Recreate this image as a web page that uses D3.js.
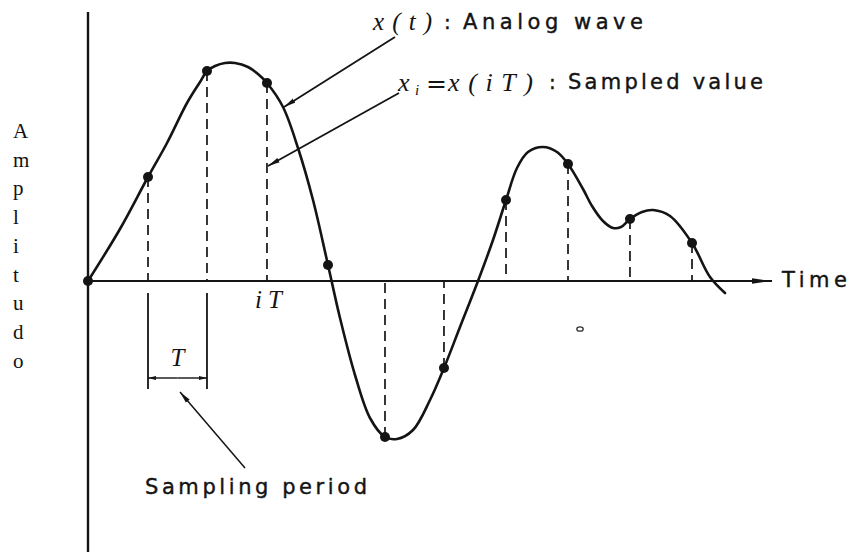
<!DOCTYPE html>
<html><head><meta charset="utf-8">
<script src="https://cdn.jsdelivr.net/npm/d3@7"></script>
<style>body{margin:0;background:#fff}svg{display:block}</style>
</head><body>
<svg id="c" width="849" height="552"></svg>
<script>
// analog wave x(t) (t in units of T, amplitude in arbitrary units)
const waveT = [0, 0.533, 1.0, 1.317, 1.65, 1.867, 1.983, 2.117, 2.283, 2.45, 2.667, 2.833, 2.983, 3.25, 3.5, 3.75, 4.0, 4.2, 4.45, 4.7, 4.95, 5.15, 5.417, 5.7, 5.933, 6.2, 6.5, 6.75, 6.967, 7.15, 7.333, 7.583, 7.817, 8.0, 8.25, 8.4, 8.583, 8.75, 8.883, 9.033, 9.233, 9.417, 9.7, 10.067, 10.367, 10.617];
const waveA = [0, 0.52, 1.04, 1.38, 1.78, 1.99, 2.10, 2.15, 2.18, 2.18, 2.14, 2.07, 1.98, 1.74, 1.33, 0.81, 0.16, -0.37, -0.94, -1.37, -1.56, -1.58, -1.49, -1.19, -0.87, -0.46, 0, 0.41, 0.81, 1.13, 1.29, 1.34, 1.29, 1.17, 0.92, 0.75, 0.60, 0.53, 0.54, 0.62, 0.69, 0.71, 0.65, 0.38, 0.04, -0.12];
// sampled values x_i = x(iT)
const sampleT = [0, 1.0, 1.983, 2.983, 4.0, 4.95, 5.933, 6.967, 8.0, 9.033, 10.067];
const sampleA = [0, 1.04, 2.10, 1.98, 0.16, -1.56, -0.87, 0.81, 1.17, 0.62, 0.38];
// labels
const yLabel = "Amplitudo";
const xLabel = "Time";
const waveLabel = ["x(t)", ":", "Analog wave"];
const sampleLabel = ["x", "i", "=", "x(iT)", ":", "Sampled value"];
const periodLabel = "Sampling period";
const iTLabel = ["i", "T"];
const TLabel = "T";

const svg = d3.select("#c");
const x = d3.scaleLinear().domain([0, 10]).range([88, 688]);
const y = d3.scaleLinear().domain([-2.6, 2.7]).range([541, 11]);
const ink = "#141414";

const defs = svg.append("defs");
defs.append("marker").attr("id", "ah").attr("viewBox", "0 0 12 6")
  .attr("refX", 12).attr("refY", 3).attr("markerWidth", 12).attr("markerHeight", 6)
  .attr("markerUnits", "userSpaceOnUse").attr("orient", "auto")
  .append("path").attr("d", "M0,0.6 L12,3 L0,5.4 Z").attr("fill", ink);
defs.append("marker").attr("id", "ahs").attr("viewBox", "0 0 8 5")
  .attr("refX", 8).attr("refY", 2.5).attr("markerWidth", 8).attr("markerHeight", 5)
  .attr("markerUnits", "userSpaceOnUse").attr("orient", "auto")
  .append("path").attr("d", "M0,0.5 L8,2.5 L0,4.5 Z").attr("fill", ink);
defs.append("marker").attr("id", "ahx").attr("viewBox", "0 0 20 7")
  .attr("refX", 20).attr("refY", 3.5).attr("markerWidth", 20).attr("markerHeight", 7)
  .attr("markerUnits", "userSpaceOnUse").attr("orient", "auto")
  .append("path").attr("d", "M0,0.8 L20,3.5 L0,6.2 Z").attr("fill", ink);

// axes
svg.append("line").attr("x1", x(0)).attr("x2", x(0)).attr("y1", 12).attr("y2", 552)
  .attr("stroke", ink).attr("stroke-width", 2.4);
svg.append("line").attr("x1", x(0)).attr("x2", x(11.4)).attr("y1", y(0)).attr("y2", y(0))
  .attr("stroke", ink).attr("stroke-width", 2).attr("marker-end", "url(#ahx)");

// dashed sample lines
svg.append("g").selectAll("line").data(sampleT.map((t, i) => [t, sampleA[i]]).filter(d => Math.abs(d[1]) > 0.3))
  .join("line")
  .attr("x1", d => x(d[0])).attr("x2", d => x(d[0]))
  .attr("y1", d => y(d[1])).attr("y2", y(0))
  .attr("stroke", ink).attr("stroke-width", 1.7).attr("stroke-dasharray", "10,6");

// period bracket (between samples 1 and 2)
const tA = sampleT[1], tB = sampleT[2];
[tA, tB].forEach(t => {
  svg.append("line").attr("x1", x(t)).attr("x2", x(t)).attr("y1", y(-0.12)).attr("y2", y(-1.08))
    .attr("stroke", ink).attr("stroke-width", 1.8);
});
const mid = (tA + tB) / 2;
svg.append("line").attr("x1", x(mid)).attr("x2", x(tA)).attr("y1", y(-0.97)).attr("y2", y(-0.97))
  .attr("stroke", ink).attr("stroke-width", 1.4).attr("marker-end", "url(#ahs)");
svg.append("line").attr("x1", x(mid)).attr("x2", x(tB)).attr("y1", y(-0.97)).attr("y2", y(-0.97))
  .attr("stroke", ink).attr("stroke-width", 1.4).attr("marker-end", "url(#ahs)");

// analog wave
const line = d3.line().x(d => x(d[0])).y(d => y(d[1])).curve(d3.curveCatmullRom.alpha(0.5));
svg.append("path").datum(waveT.map((t, i) => [t, waveA[i]]))
  .attr("d", line).attr("fill", "none").attr("stroke", ink).attr("stroke-width", 2.6)
  .attr("stroke-linejoin", "round").attr("stroke-linecap", "round");

// sample dots
svg.append("g").selectAll("circle").data(sampleT.map((t, i) => [t, sampleA[i]]))
  .join("circle").attr("cx", d => x(d[0])).attr("cy", d => y(d[1])).attr("r", 5).attr("fill", ink);

// pointer arrows
const arrow = (x1, y1, x2, y2, w) => svg.append("line").attr("x1", x1).attr("y1", y1).attr("x2", x2).attr("y2", y2)
  .attr("stroke", ink).attr("stroke-width", w).attr("marker-end", "url(#ah)");
arrow(395, 37, 284, 107, 1.8);
arrow(399, 93, 268, 166, 1.8);
arrow(245, 468, 180, 392, 1.5);

// small stray mark
svg.append("ellipse").attr("cx", 580).attr("cy", 329).attr("rx", 3.2).attr("ry", 2.2)
  .attr("fill", "none").attr("stroke", "#333").attr("stroke-width", 1.3);

// text
const sans = "'DejaVu Sans', sans-serif";
const serif = "'Liberation Serif', serif";
const T = (xx, yy, s, opts) => {
  const t = svg.append("text").attr("x", xx).attr("y", yy).attr("fill", ink)
    .attr("font-family", opts.f || sans).attr("font-size", opts.s);
  if (opts.it) t.attr("font-style", "italic");
  if (opts.len) t.attr("textLength", opts.len).attr("lengthAdjust", opts.adj || "spacing");
  if (opts.sw) t.attr("stroke", ink).attr("stroke-width", opts.sw);
  if (opts.anchor) t.attr("text-anchor", opts.anchor);
  return t.text(s);
};

// y label vertical letters
svg.append("g").selectAll("text").data(yLabel.split(""))
  .join("text").attr("x", 13).attr("y", (d, i) => 138 + i * 28.7)
  .attr("font-family", serif).attr("font-size", 21).attr("fill", "#111").text(d => d);

T(782, 287, xLabel, {s: 21, len: 65, sw: 0.4});

// wave label
T(373, 30, waveLabel[0], {f: serif, it: true, s: 25, len: 59});
T(444, 29, waveLabel[1], {s: 20, sw: 0.4});
T(463, 29, waveLabel[2], {s: 21, len: 180, sw: 0.4});

// sample label
T(398, 91, sampleLabel[0], {f: serif, it: true, s: 26});
T(415, 95, sampleLabel[1], {f: serif, it: true, s: 15});
T(426, 92, sampleLabel[2], {s: 24, len: 21, adj: "spacingAndGlyphs"});
T(448, 91, sampleLabel[3], {f: serif, it: true, s: 26, len: 85});
T(549, 89, sampleLabel[4], {s: 20, sw: 0.4});
T(568, 89, sampleLabel[5], {s: 21, len: 195, sw: 0.4});

// iT label
T(255, 308, iTLabel[0], {f: serif, it: true, s: 25});
T(268, 308, iTLabel[1], {f: serif, it: true, s: 25});

// T label
T(x(mid), 366, TLabel, {f: serif, it: true, s: 25, anchor: "middle"});

// sampling period label
T(145, 494, periodLabel, {s: 21, len: 222, sw: 0.4});
</script>
</body></html>
